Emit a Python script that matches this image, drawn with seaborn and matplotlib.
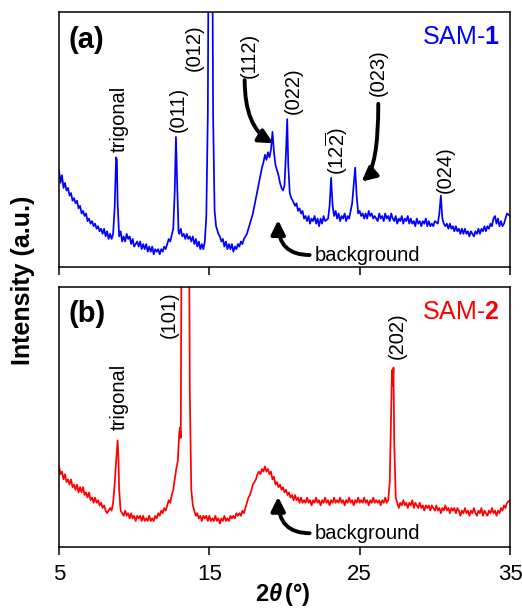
import matplotlib
matplotlib.use("Agg")
import matplotlib.pyplot as plt
import seaborn as sns
import pandas as pd

# SAM-1 pattern, intensity in arbitrary units (0-100 = panel height)
sam1_x = [5.0, 5.1, 5.2, 5.3, 5.4, 5.5, 5.6, 5.7, 5.8, 5.9, 6.0, 6.1, 6.2, 6.3, 6.4, 6.5, 6.6, 6.7, 6.8, 6.9,
          7.0, 7.1, 7.2, 7.3, 7.4, 7.5, 7.6, 7.7, 7.8, 7.9, 8.0, 8.1, 8.2, 8.3, 8.4, 8.5, 8.6, 8.7, 8.8, 8.85,
          8.9, 9.0, 9.1, 9.2, 9.3, 9.4, 9.5, 9.6, 9.7, 9.8, 9.9, 10.0, 10.2, 10.3, 10.4, 10.5, 10.6, 10.7, 10.8, 10.9,
          11.0, 11.1, 11.2, 11.3, 11.4, 11.5, 11.6, 11.7, 11.8, 11.9, 12.0, 12.1, 12.2, 12.3, 12.4, 12.6, 12.7, 12.78, 12.85, 12.95,
          13.0, 13.1, 13.2, 13.3, 13.4, 13.5, 13.6, 13.7, 13.8, 13.9, 14.0, 14.1, 14.2, 14.3, 14.4, 14.5, 14.6, 14.7, 14.8, 14.9,
          15.0, 15.15, 15.25, 15.35, 15.45, 15.6, 15.7, 15.8, 15.9, 16.0, 16.1, 16.2, 16.3, 16.4, 16.5, 16.6, 16.7, 16.8, 16.9, 17.0,
          17.1, 17.2, 17.3, 17.4, 17.5, 17.6, 17.7, 17.8, 17.9, 18.0, 18.1, 18.2, 18.3, 18.4, 18.5, 18.6, 18.7, 18.8, 18.9, 19.0,
          19.1, 19.2, 19.3, 19.4, 19.5, 19.6, 19.7, 19.8, 19.9, 20.0, 20.1, 20.18, 20.25, 20.35, 20.45, 20.55, 20.7, 20.8, 20.9, 21.0,
          21.1, 21.2, 21.3, 21.4, 21.5, 21.6, 21.7, 21.8, 21.9, 22.0, 22.1, 22.2, 22.3, 22.4, 22.5, 22.6, 22.7, 22.9, 23.0, 23.1,
          23.2, 23.3, 23.4, 23.5, 23.6, 23.7, 23.8, 23.9, 24.0, 24.1, 24.2, 24.3, 24.4, 24.5, 24.6, 24.7, 24.8, 24.9, 25.0, 25.1,
          25.2, 25.3, 25.4, 25.5, 25.6, 25.7, 25.8, 25.9, 26.0, 26.2, 26.3, 26.4, 26.5, 26.6, 26.7, 26.8, 26.9, 27.0, 27.1, 27.2,
          27.3, 27.4, 27.5, 27.6, 27.7, 27.8, 27.9, 28.0, 28.1, 28.2, 28.3, 28.4, 28.5, 28.6, 28.7, 28.8, 28.9, 29.0, 29.1, 29.2,
          29.3, 29.4, 29.5, 29.6, 29.7, 29.8, 29.9, 30.0, 30.2, 30.3, 30.4, 30.5, 30.6, 30.7, 30.8, 30.9, 31.0, 31.1, 31.2, 31.3,
          31.4, 31.5, 31.6, 31.7, 31.8, 31.9, 32.0, 32.1, 32.2, 32.3, 32.4, 32.5, 32.6, 32.7, 32.8, 32.9, 33.0, 33.1, 33.2, 33.3,
          33.4, 33.5, 33.6, 33.7, 33.8, 33.9, 34.0, 34.1, 34.2, 34.3, 34.4, 34.5, 34.6, 34.7, 34.8, 35.0]
sam1_y = [38, 33, 36, 31, 33, 30, 31, 28, 29, 26, 27, 25, 26, 23, 24, 21, 22, 20, 21, 18,
          19, 17, 18, 16, 17, 15, 16, 14, 15, 13, 15, 12, 14, 11, 13, 11, 13, 23, 43, 42,
          25, 12, 14, 10, 12, 10, 13, 11, 12, 9, 11, 8, 10, 8, 10, 7, 9, 7, 9, 6,
          8, 6, 8, 5, 7, 6, 7, 5, 7, 6, 8, 7, 9, 11, 10, 15, 30, 51, 35, 14,
          13, 15, 12, 13, 11, 13, 11, 12, 10, 12, 9, 11, 8, 10, 7, 9, 7, 10, 20, 60,
          200, 200, 60, 22, 16, 13, 12, 10, 11, 8, 10, 7, 9, 7, 9, 6, 8, 7, 9, 8,
          10, 9, 11, 12, 13, 15, 17, 19, 21, 24, 27, 30, 33, 36, 39, 41, 44, 42, 45, 43,
          46, 53, 45, 40, 38, 36, 33, 31, 30, 32, 45, 58, 40, 29, 27, 26, 24, 25, 22, 23,
          21, 22, 19, 20, 18, 20, 17, 19, 18, 20, 17, 19, 16, 19, 17, 20, 18, 19, 24, 35,
          24, 20, 22, 19, 21, 18, 20, 19, 21, 18, 20, 19, 22, 25, 32, 39, 28, 21, 22, 20,
          21, 19, 21, 19, 22, 20, 21, 19, 20, 18, 21, 19, 20, 18, 21, 19, 20, 18, 21, 19,
          18, 20, 17, 19, 18, 20, 17, 19, 18, 20, 17, 19, 17, 18, 16, 19, 17, 18, 16, 18,
          17, 19, 16, 18, 16, 17, 16, 18, 17, 21, 28, 19, 17, 16, 17, 15, 17, 15, 16, 14,
          16, 14, 15, 13, 15, 13, 15, 13, 14, 12, 14, 13, 12, 14, 13, 15, 13, 15, 14, 16,
          14, 16, 15, 17, 16, 19, 20, 17, 19, 16, 18, 16, 17, 19, 21, 20]

# SAM-2 pattern
sam2_x = [5.0, 5.1, 5.2, 5.3, 5.4, 5.5, 5.6, 5.7, 5.8, 5.9, 6.0, 6.1, 6.2, 6.3, 6.4, 6.5, 6.6, 6.7, 6.8, 6.9,
          7.0, 7.1, 7.2, 7.3, 7.4, 7.5, 7.6, 7.7, 7.8, 7.9, 8.0, 8.1, 8.2, 8.4, 8.5, 8.6, 8.7, 8.8, 8.9, 8.95,
          9.0, 9.1, 9.2, 9.3, 9.4, 9.5, 9.6, 9.7, 9.8, 9.9, 10.0, 10.1, 10.2, 10.3, 10.4, 10.5, 10.6, 10.7, 10.8, 10.9,
          11.0, 11.1, 11.2, 11.3, 11.4, 11.5, 11.6, 11.7, 11.8, 11.9, 12.0, 12.1, 12.2, 12.3, 12.4, 12.5, 12.6, 12.7, 12.8, 12.9,
          13.0, 13.05, 13.1, 13.2, 13.6, 13.7, 13.8, 13.9, 14.0, 14.1, 14.2, 14.3, 14.4, 14.5, 14.6, 14.7, 14.8, 14.9, 15.0, 15.1,
          15.2, 15.3, 15.4, 15.5, 15.6, 15.7, 15.8, 15.9, 16.0, 16.1, 16.2, 16.3, 16.4, 16.5, 16.6, 16.7, 16.8, 16.9, 17.0, 17.1,
          17.2, 17.3, 17.4, 17.5, 17.6, 17.7, 17.8, 17.9, 18.0, 18.1, 18.2, 18.3, 18.4, 18.5, 18.6, 18.7, 18.8, 18.9, 19.0, 19.1,
          19.2, 19.3, 19.4, 19.5, 19.6, 19.7, 19.8, 19.9, 20.0, 20.1, 20.2, 20.3, 20.4, 20.5, 20.6, 20.7, 20.8, 20.9, 21.0, 21.1,
          21.2, 21.3, 21.4, 21.5, 21.6, 21.7, 21.8, 21.9, 22.0, 22.1, 22.2, 22.3, 22.4, 22.5, 22.6, 22.7, 22.8, 22.9, 23.0, 23.1,
          23.2, 23.3, 23.4, 23.5, 23.6, 23.7, 23.8, 23.9, 24.0, 24.1, 24.2, 24.3, 24.4, 24.5, 24.6, 24.7, 24.8, 24.9, 25.0, 25.1,
          25.2, 25.3, 25.4, 25.5, 25.6, 25.7, 25.8, 25.9, 26.0, 26.1, 26.2, 26.3, 26.4, 26.5, 26.6, 26.7, 26.8, 26.9, 27.0, 27.1,
          27.15, 27.2, 27.25, 27.3, 27.4, 27.5, 27.6, 27.7, 27.8, 27.9, 28.0, 28.1, 28.2, 28.3, 28.4, 28.5, 28.6, 28.7, 28.8, 28.9,
          29.0, 29.1, 29.2, 29.3, 29.4, 29.5, 29.6, 29.7, 29.8, 29.9, 30.0, 30.1, 30.2, 30.3, 30.4, 30.5, 30.6, 30.7, 30.8, 30.9,
          31.0, 31.1, 31.2, 31.3, 31.4, 31.5, 31.6, 31.7, 31.8, 31.9, 32.0, 32.1, 32.2, 32.3, 32.4, 32.5, 32.6, 32.7, 32.8, 32.9,
          33.0, 33.1, 33.2, 33.3, 33.4, 33.5, 33.6, 33.7, 33.8, 33.9, 34.0, 34.1, 34.2, 34.3, 34.4, 34.5, 34.6, 34.7, 34.8, 35.0]
sam2_y = [31, 28, 29, 26, 28, 25, 26, 24, 26, 23, 24, 22, 24, 21, 23, 21, 23, 20, 21, 19,
          21, 18, 19, 17, 19, 17, 18, 16, 17, 15, 16, 14, 13, 15, 14, 17, 24, 33, 41, 35,
          22, 14, 13, 12, 14, 12, 13, 11, 13, 11, 12, 10, 12, 11, 12, 10, 12, 10, 11, 10,
          12, 10, 11, 10, 12, 11, 13, 12, 14, 13, 15, 14, 16, 18, 17, 20, 22, 26, 30, 33,
          44, 46, 42, 200, 200, 60, 22, 16, 14, 12, 13, 11, 12, 10, 12, 11, 12, 10, 12, 10,
          11, 10, 12, 10, 11, 9, 11, 10, 12, 10, 11, 10, 12, 11, 12, 11, 13, 12, 13, 12,
          14, 13, 15, 17, 19, 20, 22, 24, 25, 26, 28, 29, 28, 30, 29, 31, 29, 30, 28, 29,
          26, 27, 24, 25, 23, 24, 22, 23, 21, 22, 20, 21, 19, 20, 18, 20, 18, 19, 17, 19,
          17, 18, 17, 19, 17, 18, 16, 18, 17, 19, 17, 18, 16, 18, 17, 19, 17, 18, 16, 18,
          17, 19, 17, 18, 17, 19, 17, 18, 16, 18, 17, 19, 17, 18, 16, 18, 17, 19, 17, 18,
          17, 19, 17, 18, 16, 18, 17, 19, 17, 18, 17, 18, 16, 18, 17, 19, 17, 18, 25, 55,
          68, 62, 69, 40, 19, 17, 15, 17, 16, 18, 16, 17, 15, 17, 16, 18, 15, 17, 16, 15,
          17, 15, 16, 14, 16, 15, 16, 14, 16, 15, 14, 16, 14, 15, 13, 15, 14, 16, 14, 15,
          13, 15, 14, 15, 13, 15, 14, 12, 14, 13, 15, 13, 14, 12, 14, 13, 15, 13, 12, 14,
          13, 15, 12, 14, 13, 12, 14, 13, 15, 13, 14, 12, 14, 13, 15, 14, 16, 15, 17, 18]

x_ticks = [5, 15, 25, 35]

# peak labels: (text, x, y of label bottom)
labels_a = [("trigonal", 9.0, 45), ("(011)", 12.9, 53), ("(012)", 14.0, 77), ("(112)", 17.65, 74),
            ("(022)", 20.58, 60), (r"(12$\overline{\mathrm{2}}$)", 23.47, 36), ("(023)", 26.24, 67),
            ("(024)", 30.67, 29)]
labels_b = [("trigonal", 9.02, 45), ("(101)", 12.35, 80.5), ("(202)", 27.47, 72.5)]

sns.set_theme(style="ticks")
plt.rcParams["font.family"] = ["Liberation Sans", "DejaVu Sans"]
plt.rcParams["text.color"] = "black"
plt.rcParams["xtick.color"] = "black"
plt.rcParams["xtick.labelcolor"] = "black"
plt.rcParams["mathtext.fontset"] = "custom"
plt.rcParams["mathtext.rm"] = "Liberation Sans"
plt.rcParams["mathtext.it"] = "Liberation Sans:italic"
plt.rcParams["mathtext.bf"] = "Liberation Sans:bold"
plt.rcParams["mathtext.bfit"] = "Liberation Sans:italic:bold"

fig = plt.figure(figsize=(5.22, 6.08), dpi=100)
ax1 = fig.add_axes([59 / 522, 1 - 267 / 608, 451 / 522, 255 / 608])
ax2 = fig.add_axes([59 / 522, 1 - 547 / 608, 451 / 522, 260 / 608])

df1 = pd.DataFrame({"two_theta": sam1_x, "intensity": sam1_y})
df2 = pd.DataFrame({"two_theta": sam2_x, "intensity": sam2_y})
sns.lineplot(data=df1, x="two_theta", y="intensity", ax=ax1, color="#0000ff", linewidth=1.25, estimator=None)
sns.lineplot(data=df2, x="two_theta", y="intensity", ax=ax2, color="#ff0000", linewidth=1.25, estimator=None)

arrow_kw = dict(arrowstyle="-|>,head_width=0.35,head_length=0.7", lw=2.8, color="black",
                shrinkA=0, shrinkB=0)

for ax in (ax1, ax2):
    ax.set_xlim(5, 35)
    ax.set_ylim(0, 100)
    ax.set_xticks(x_ticks)
    ax.set_yticks([])
    ax.set_xlabel("")
    ax.set_ylabel("")
    for s in ax.spines.values():
        s.set_visible(True)
        s.set_color("black")
        s.set_linewidth(1.1)
    ax.tick_params(axis="x", direction="out", length=6, width=1.1, color="black",
                   labelsize=16, pad=6, labelcolor="black")

ax1.set_xticklabels([])

for txt, x, y in labels_a:
    ax1.text(x, y, txt, rotation=90, ha="center", va="bottom", fontsize=14.5)
for txt, x, y in labels_b:
    ax2.text(x, y, txt, rotation=90, ha="center", va="bottom", fontsize=14.5)

ax1.text(5.65, 89, "(a)", fontsize=21, fontweight="bold", ha="left", va="center")
ax2.text(5.65, 89.5, "(b)", fontsize=21, fontweight="bold", ha="left", va="center")
ax1.text(34.3, 90.3, r"SAM-$\mathbf{1}$", fontsize=18, color="#0000ff", ha="right", va="center")
ax2.text(34.3, 90.5, r"SAM-$\mathbf{2}$", fontsize=18, color="#ff0000", ha="right", va="center")

ax1.text(22.0, 4.7, "background", fontsize=14.5, ha="left", va="center")
ax2.text(22.0, 5.3, "background", fontsize=14.5, ha="left", va="center")

ax1.annotate("", xy=(19.25, 48.5), xytext=(17.35, 73.3),
             arrowprops=dict(connectionstyle="angle3,angleA=90,angleB=-30", **arrow_kw))
ax1.annotate("", xy=(25.13, 33.5), xytext=(26.24, 64),
             arrowprops=dict(connectionstyle="angle3,angleA=90,angleB=40", **arrow_kw))
ax1.annotate("", xy=(19.58, 18.4), xytext=(21.67, 4.7),
             arrowprops=dict(connectionstyle="angle3,angleA=0,angleB=90", **arrow_kw))
ax2.annotate("", xy=(19.58, 19.3), xytext=(21.67, 5.3),
             arrowprops=dict(connectionstyle="angle3,angleA=0,angleB=90", **arrow_kw))

fig.text(23 / 522, 1 - 280 / 608, "Intensity (a.u.)", rotation=90, fontsize=18,
         fontweight="bold", ha="center", va="center")
fig.text(283 / 522, 1 - 595 / 608, r"$\mathbf{2}\mathbfit{\theta}\,\mathbf{(°)}$", fontsize=17,
         ha="center", va="center")

fig.savefig("out.png", dpi=100)
